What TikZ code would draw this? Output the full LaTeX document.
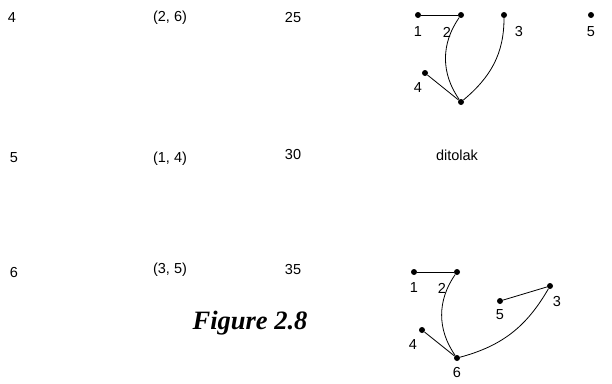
\documentclass[tikz,border=0pt]{standalone}
\usepackage{fontspec}
\setmainfont{Liberation Sans}
\newfontfamily\figfont{Liberation Serif}
\usepackage{tikz}
\usetikzlibrary{positioning}
\tikzset{
  cell/.style={inner sep=0pt, font=\fontsize{14.5}{17}\selectfont},
  numlbl/.style={inner sep=0pt, font=\fontsize{14.5}{17}\selectfont},
  vertex/.style={circle, fill=black, inner sep=0pt, minimum size=6pt},
  edge/.style={line width=0.8pt},
  figlabel/.style={inner sep=0pt, font=\figfont\bfseries\itshape\fontsize{26.5}{30}\selectfont}
}
\begin{document}
\begin{tikzpicture}[x=1pt, y=-1pt]
\useasboundingbox (0,0) rectangle (612,383);

% --- Column positions ---
\def\xstep{12}
\def\xedge{170}
\def\xcost{293}

% --- Table rows ---
\node[cell] (s4) at (\xstep,18)  {4};
\node[cell] (e4) at (\xedge,18)  {(2, 6)};
\node[cell] (c4) at (\xcost,18)  {25};
\node[cell] (s5) at (14,158)     {5};
\node[cell] (e5) at (\xedge,159) {(1, 4)};
\node[cell] (c5) at (\xcost,155) {30};
\node[cell] (s6) at (14,273)     {6};
\node[cell] (e6) at (\xedge,270) {(3, 5)};
\node[cell] (c6) at (\xcost,270) {35};

\node[cell] (rej) at (457,155) {ditolak};
\node[figlabel] (fig) at (250,323) {Figure 2.8};

% --- Top graph (step 4) ---
\node[vertex] (t1) at (418,15)  {};
\node[vertex] (t2) at (461,15)  {};
\node[vertex] (t3) at (504,15)  {};
\node[vertex] (t5) at (591,15)  {};
\node[vertex] (t4) at (425,73)  {};
\node[vertex] (t6) at (461,102) {};
\node[numlbl] (lt1) at (418,32) {1};
\node[numlbl] (lt2) at (447,32) {2};
\node[numlbl] (lt3) at (519,32) {3};
\node[numlbl] (lt5) at (591,32) {5};
\node[numlbl] (lt4) at (418,88) {4};

\draw[edge] (t1) -- (t2);
\draw[edge] (t4) -- (t6);
\draw[edge] (t2) to[bend right=35] (t6);
\draw[edge] (t3) to[out=-90, in=40] (t6);

% --- Bottom graph (step 6) ---
\node[vertex] (b1) at (414,272) {};
\node[vertex] (b2) at (457,272) {};
\node[vertex] (b3) at (550,286) {};
\node[vertex] (b5) at (500,301) {};
\node[vertex] (b4) at (422,330) {};
\node[vertex] (b6) at (457,358) {};
\node[numlbl] (lb1) at (414,288) {1};
\node[numlbl] (lb2) at (442,288) {2};
\node[numlbl] (lb3) at (557,302) {3};
\node[numlbl] (lb5) at (500,315) {5};
\node[numlbl] (lb4) at (413,345) {4};
\node[numlbl] (lb6) at (457,373) {6};

\draw[edge] (b1) -- (b2);
\draw[edge] (b5) -- (b3);
\draw[edge] (b4) -- (b6);
\draw[edge] (b2) to[bend right=35] (b6);
\draw[edge] (b3) to[out=-120, in=15] (b6);

\end{tikzpicture}
\end{document}
